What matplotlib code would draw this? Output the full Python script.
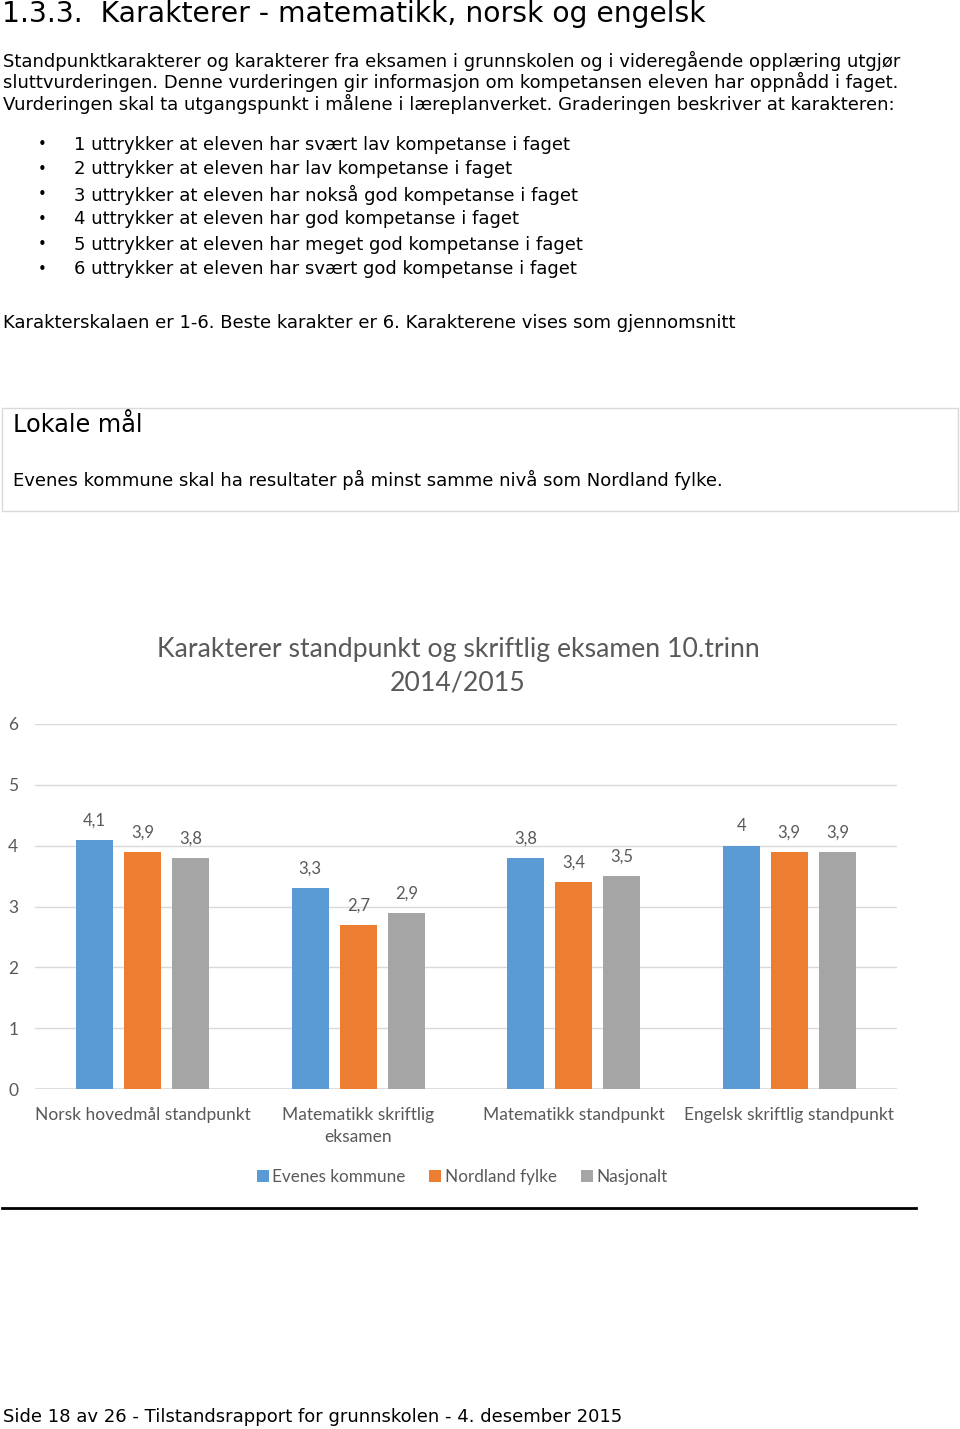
import matplotlib
matplotlib.use("Agg")
import matplotlib.pyplot as plt
import numpy as np
from matplotlib.patches import Rectangle

W, H = 960, 1429

# data
categories = ["Norsk hovedmål standpunkt", "Matematikk skriftlig\neksamen",
              "Matematikk standpunkt", "Engelsk skriftlig standpunkt"]
evenes = [4.1, 3.3, 3.8, 4.0]
nordland = [3.9, 2.7, 3.4, 3.9]
nasjonalt = [3.8, 2.9, 3.5, 3.9]
series_names = ["Evenes kommune", "Nordland fylke", "Nasjonalt"]
colors = ["#5B9BD5", "#ED7D31", "#A5A5A5"]
yticks = [0, 1, 2, 3, 4, 5, 6]

heading = "1.3.3.  Karakterer - matematikk, norsk og engelsk"
intro = ["Standpunktkarakterer og karakterer fra eksamen i grunnskolen og i videregående opplæring utgjør",
         "sluttvurderingen. Denne vurderingen gir informasjon om kompetansen eleven har oppnådd i faget.",
         "Vurderingen skal ta utgangspunkt i målene i læreplanverket. Graderingen beskriver at karakteren:"]
bullets = ["1 uttrykker at eleven har svært lav kompetanse i faget",
           "2 uttrykker at eleven har lav kompetanse i faget",
           "3 uttrykker at eleven har nokså god kompetanse i faget",
           "4 uttrykker at eleven har god kompetanse i faget",
           "5 uttrykker at eleven har meget god kompetanse i faget",
           "6 uttrykker at eleven har svært god kompetanse i faget"]
scale_text = "Karakterskalaen er 1-6. Beste karakter er 6. Karakterene vises som gjennomsnitt"
box_title = "Lokale mål"
box_text = "Evenes kommune skal ha resultater på minst samme nivå som Nordland fylke."
chart_title = "Karakterer standpunkt og skriftlig eksamen 10.trinn\n2014/2015"
footer = "Side 18 av 26 - Tilstandsrapport for grunnskolen - 4. desember 2015"

fig = plt.figure(figsize=(W / 100, H / 100), dpi=100)
fig.patch.set_facecolor("white")


def px(x, y):
    return x / W, 1 - y / H


def txt(x, y, s, size, **kw):
    kw.setdefault("family", "DejaVu Sans")
    kw.setdefault("va", "center")
    kw.setdefault("color", "black")
    fig.text(*px(x, y), s, fontsize=size, **kw)


# page text
txt(2, 14, heading, 20.3)
for i, line in enumerate(intro):
    txt(3, 60.5 + i * 21.5, line, 13)
for i, line in enumerate(bullets):
    y = 144.5 + i * 25
    txt(42, y, "\u2022", 10.5, ha="center")
    txt(74, y, line, 13)
txt(3, 322.5, scale_text, 13)

# box with local goals
fig.add_artist(Rectangle(px(2, 511), 956 / W, 103 / H, transform=fig.transFigure,
                         facecolor="white", edgecolor="#d9d9d9", lw=1))
txt(13, 425.5, box_title, 17.3)
txt(13, 479.5, box_text, 13)

# chart
cfont = "Lato"
ax = fig.add_axes([35 / W, 1 - 1089 / H, 862 / W, (1089 - 724) / H])
x = np.arange(len(categories))
width = 0.172
step = 0.223
for k, vals in enumerate([evenes, nordland, nasjonalt]):
    bars = ax.bar(x + (k - 1) * step, vals, width, color=colors[k],
                  label=series_names[k], zorder=3)
    for b, v in zip(bars, vals):
        lab = ("%g" % v).replace(".", ",")
        ax.annotate(lab, (b.get_x() + b.get_width() / 2, v), xytext=(0, 14),
                    textcoords="offset points", ha="center", va="center",
                    fontsize=12, color="#595959", family=cfont)

ax.set_xlim(-0.5, 3.5)
ax.set_ylim(0, 6)
ax.set_yticks(yticks)
ax.yaxis.grid(True, color="#d9d9d9", lw=1)
ax.set_axisbelow(True)
for s in ax.spines.values():
    s.set_visible(False)
ax.axhline(0, color="#d9d9d9", lw=1.2, zorder=2)
ax.set_xticks(x)
ax.set_xticklabels(categories, linespacing=1.45)
ax.tick_params(axis="both", length=0, labelsize=12.5, labelcolor="#595959")
ax.tick_params(axis="y", pad=12)
ax.tick_params(axis="x", pad=13)
for t in ax.get_xticklabels() + ax.get_yticklabels():
    t.set_family(cfont)
for t in ax.get_xticklabels():
    t.set_va("top")

fig.text(*px(458, 666), chart_title, fontsize=19.2, color="#595959",
         family=cfont, ha="center", va="center", linespacing=1.4)

leg = fig.legend(loc="center", bbox_to_anchor=px(462, 1177), ncol=3, frameon=False,
                 prop={"family": cfont, "size": 12.3}, handlelength=0.7, handleheight=0.7,
                 handletextpad=0.2, columnspacing=1.4)
for t in leg.get_texts():
    t.set_color("#595959")

# separator line
fig.add_artist(plt.Line2D([2 / W, 916 / W], [1 - 1208 / H] * 2, transform=fig.transFigure,
                          color="black", lw=2))

txt(3, 1416.5, footer, 13)

fig.savefig("out.png", dpi=100)
